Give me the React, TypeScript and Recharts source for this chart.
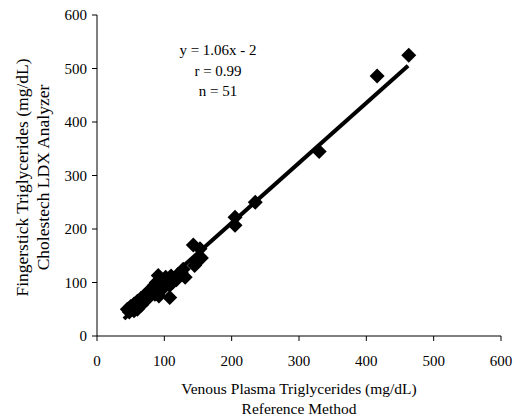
import { ScatterChart, Scatter, XAxis, YAxis, ReferenceLine } from 'recharts'

// Venous plasma (x) vs fingerstick (y), mg/dL
const venous = [
  463, 416, 330, 235, 205, 205, 143, 153, 155, 148,
  145, 131, 128, 120, 115, 112, 108, 108, 100, 98,
  95, 91, 88, 86, 85, 82, 80, 78, 75, 72,
  70, 68, 65, 62, 60, 58, 55, 52, 50, 48,
  45, 60, 92, 102, 118, 125, 110, 96, 66, 55, 74,
]
const fingerstick = [
  525, 486, 345, 250, 222, 207, 170, 163, 146, 138,
  132, 110, 125, 115, 108, 100, 72, 95, 105, 92,
  85, 113, 100, 78, 95, 88, 80, 75, 82, 70,
  75, 65, 70, 60, 65, 55, 60, 50, 55, 45,
  50, 50, 75, 110, 105, 118, 112, 98, 58, 47, 68,
]

// Trend line ends as drawn
const fitX = [40, 462]
const fitY = [32, 505]

const axisTicks = [0, 100, 200, 300, 400, 500, 600]
const statLines = ['y = 1.06x - 2', 'r = 0.99', 'n = 51']

const points = venous.map((x, i) => ({ x, y: fingerstick[i] }))

const font = '"Liberation Serif", "Times New Roman", serif'

const Diamond = (props: any) => {
  const { cx, cy } = props
  const r = 7.5
  return (
    <polygon
      points={`${cx},${cy - r} ${cx + r},${cy} ${cx},${cy + r} ${cx - r},${cy}`}
      fill="#000"
    />
  )
}

const YLabel = (props: any) => {
  const { viewBox } = props
  const cy = viewBox.y + viewBox.height / 2 + 2
  return (
    <g fontFamily={font} fontSize={17.5} fill="#000">
      <text x={22} y={cy} textAnchor="middle" dominantBaseline="central" transform={`rotate(-90, 22, ${cy})`}>
        Fingerstick Triglycerides (mg/dL)
      </text>
      <text x={43} y={cy} textAnchor="middle" dominantBaseline="central" transform={`rotate(-90, 43, ${cy})`}>
        Cholestech LDX Analyzer
      </text>
    </g>
  )
}

const XLabel = (props: any) => {
  const { viewBox } = props
  const cx = viewBox.x + viewBox.width / 2
  return (
    <g fontFamily={font} fontSize={15.5} fill="#000">
      <text x={cx} y={388} textAnchor="middle" dominantBaseline="central">
        Venous Plasma Triglycerides (mg/dL)
      </text>
      <text x={cx} y={408} textAnchor="middle" dominantBaseline="central">
        Reference Method
      </text>
    </g>
  )
}

export default function App() {
  return (
    <div style={{ position: 'absolute', left: 0, top: 0, width: 513, height: 418, background: '#fff' }}>
      <ScatterChart width={513} height={418} margin={{ top: 15, right: 12, bottom: 0, left: 37 }}>
        <XAxis
          type="number"
          dataKey="x"
          domain={[0, 600]}
          ticks={axisTicks}
          height={82}
          tickSize={5}
          tickMargin={14}
          stroke="#000"
          tick={{ fill: '#000', fontSize: 15, fontFamily: font }}
          label={<XLabel />}
        />
        <YAxis
          type="number"
          dataKey="y"
          domain={[0, 600]}
          ticks={axisTicks}
          width={60}
          tickSize={5}
          tickMargin={5}
          stroke="#000"
          tick={{ fill: '#000', fontSize: 15, fontFamily: font }}
          label={<YLabel />}
        />
        <Scatter data={points} shape={<Diamond />} isAnimationActive={false} />
        <ReferenceLine
          segment={[{ x: fitX[0], y: fitY[0] }, { x: fitX[1], y: fitY[1] }]}
          stroke="#000"
          strokeWidth={4}
        />
      </ScatterChart>
      <div
        style={{
          position: 'absolute',
          left: 158,
          top: 40,
          width: 120,
          textAlign: 'center',
          fontFamily: font,
          fontSize: 15,
          lineHeight: '20.5px',
        }}
      >
        {statLines.map(s => (
          <div key={s}>{s}</div>
        ))}
      </div>
    </div>
  )
}
